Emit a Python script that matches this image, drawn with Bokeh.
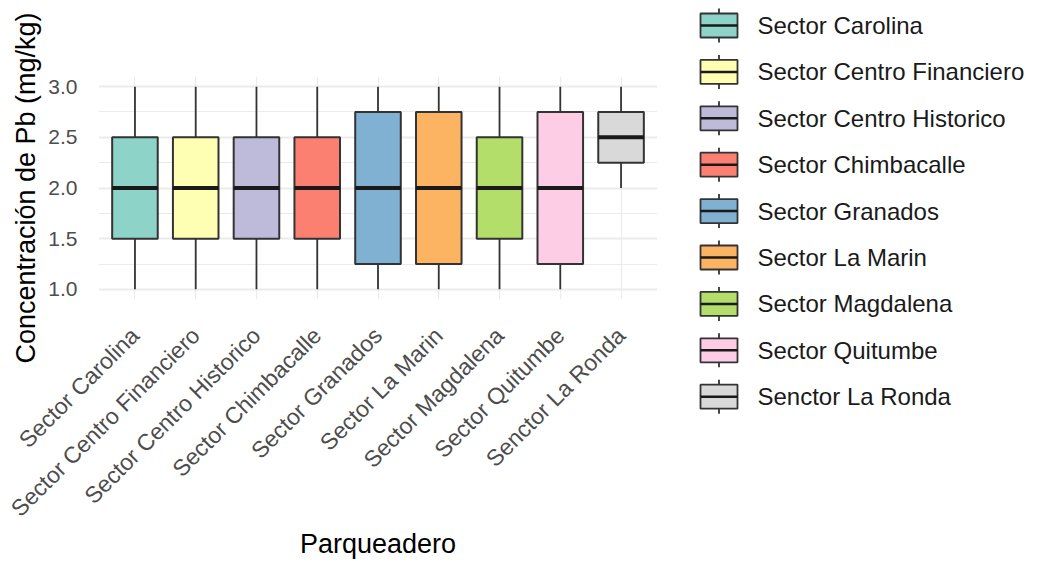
import numpy as np
from bokeh.plotting import figure
from bokeh.layouts import row
from bokeh.models import Range1d, FixedTicker
from bokeh.core.properties import value
from bokeh.embed import file_html
from bokeh.resources import INLINE

# Lead concentration by parking site (five-number summaries)
sectors = [
    "Sector Carolina",
    "Sector Centro Financiero",
    "Sector Centro Historico",
    "Sector Chimbacalle",
    "Sector Granados",
    "Sector La Marin",
    "Sector Magdalena",
    "Sector Quitumbe",
    "Senctor La Ronda",
]
whisker_low = [1.0, 1.0, 1.0, 1.0, 1.0, 1.0, 1.0, 1.0, 2.0]
q1 = [1.5, 1.5, 1.5, 1.5, 1.25, 1.25, 1.5, 1.25, 2.25]
median = [2.0, 2.0, 2.0, 2.0, 2.0, 2.0, 2.0, 2.0, 2.5]
q3 = [2.5, 2.5, 2.5, 2.5, 2.75, 2.75, 2.5, 2.75, 2.75]
whisker_high = [3.0, 3.0, 3.0, 3.0, 3.0, 3.0, 3.0, 3.0, 3.0]
colors = ["#8DD3C7", "#FFFFB3", "#BEBADA", "#FB8072", "#80B1D3",
          "#FDB462", "#B3DE69", "#FCCDE5", "#D9D9D9"]
y_ticks = [1.0, 1.5, 2.0, 2.5, 3.0]
y_minor_ticks = [1.25, 1.75, 2.25, 2.75]

FONT_NAME = "Liberation Sans"
EDGE = "#333333"
GRID = "#EBEBEB"

xs = np.arange(1, len(sectors) + 1)
box_w = 0.75

p = figure(width=690, height=562,
           x_range=Range1d(0.4, len(sectors) + 0.6), y_range=Range1d(0.9, 3.1),
           output_backend="svg", toolbar_location=None,
           min_border_left=98, min_border_right=33,
           min_border_top=76, min_border_bottom=263)
p.frame_align = False
p.outline_line_color = None
p.background_fill_color = "white"
p.border_fill_color = "white"

# whiskers
p.segment(x0=xs, y0=whisker_low, x1=xs, y1=q1, line_color=EDGE, line_width=1.8)
p.segment(x0=xs, y0=q3, x1=xs, y1=whisker_high, line_color=EDGE, line_width=1.8)
# boxes
p.vbar(x=xs, width=box_w, bottom=q1, top=q3, fill_color=colors,
       line_color=EDGE, line_width=2)
# medians
p.segment(x0=xs - box_w / 2, y0=median, x1=xs + box_w / 2, y1=median,
          line_color="#1a1a1a", line_width=4)

# axes
p.xaxis.ticker = FixedTicker(ticks=list(xs))
p.xaxis.major_label_overrides = {int(i): s for i, s in zip(xs, sectors)}
p.xaxis.major_label_orientation = np.pi / 4
p.yaxis.ticker = FixedTicker(ticks=y_ticks, minor_ticks=y_minor_ticks)
p.yaxis.major_label_overrides = {t: f"{t:.1f}" for t in y_ticks}

for ax in (p.xaxis[0], p.yaxis[0]):
    ax.axis_line_color = None
    ax.major_tick_line_color = None
    ax.minor_tick_line_color = None
    ax.major_label_text_font = FONT_NAME
    ax.major_label_text_color = "#4D4D4D"
    ax.axis_label_text_font = FONT_NAME
    ax.axis_label_text_font_style = "normal"
    ax.axis_label_text_color = "#000000"
    ax.axis_label_text_font_size = "27px"

p.xaxis.major_label_text_font_size = "23px"
p.yaxis.major_label_text_font_size = "21px"
p.xaxis.major_label_standoff = 26
p.yaxis.major_label_standoff = 15
p.xaxis.axis_label = "Parqueadero"
p.yaxis.axis_label = "Concentración de Pb (mg/kg)"
p.xaxis.axis_label_standoff = -5
p.yaxis.axis_label_standoff = 4

p.xgrid.grid_line_color = GRID
p.xgrid.grid_line_width = 1.2
p.ygrid.grid_line_color = GRID
p.ygrid.grid_line_width = 2
p.ygrid.minor_grid_line_color = GRID
p.ygrid.minor_grid_line_width = 1.2

# legend panel, drawn in pixel-like coordinates
lg = figure(width=354, height=562, x_range=Range1d(0, 354), y_range=Range1d(562, 0),
            output_backend="svg", toolbar_location=None, min_border=0)
lg.frame_align = False
lg.axis.visible = False
lg.grid.grid_line_color = None
lg.outline_line_color = None

n = len(sectors)
row_y = 25 + 46.4 * np.arange(n)
key_l, key_r = 10, 47
key_c = (key_l + key_r) / 2
lg.segment(x0=[key_c] * n, y0=row_y - 17, x1=[key_c] * n, y1=row_y + 17,
           line_color=EDGE, line_width=1.8)
lg.quad(left=[key_l] * n, right=[key_r] * n, top=row_y - 12, bottom=row_y + 12,
        fill_color=colors, line_color=EDGE, line_width=1.8)
lg.segment(x0=[key_l] * n, y0=row_y, x1=[key_r] * n, y1=row_y,
           line_color="#1a1a1a", line_width=2.5)
lg.text(x=[67] * n, y=row_y, text=sectors, text_baseline="middle",
        text_font=value(FONT_NAME), text_font_size="24px", text_color="#1a1a1a")

layout = row(p, lg)
open("out.html", "w").write(file_html(layout, INLINE))
